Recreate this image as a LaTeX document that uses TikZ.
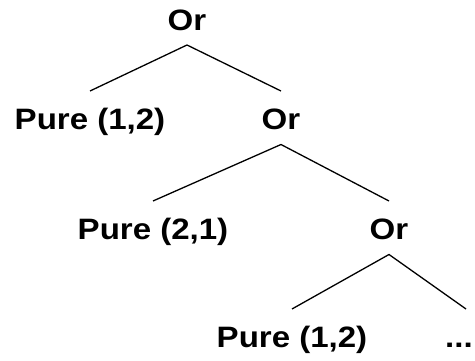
\documentclass[tikz,border=0pt]{standalone}
\usepackage{fontspec}
\setmainfont{Liberation Sans}[FakeStretch=1.12]
\begin{document}
\begin{tikzpicture}[x=1pt,y=-1pt,
  lab/.style={inner sep=0pt,anchor=base,font=\fontsize{29.5}{31}\selectfont\bfseries},
  edge/.style={line width=1.3pt}]
\useasboundingbox (0,0) rectangle (475,361);
\node[lab] (or1) at (187,30.5) {Or};
\node[lab] (p1) at (90,130) {Pure (1,2)};
\node[lab] (or2) at (281,130) {Or};
\node[lab] (p2) at (153,240) {Pure (2,1)};
\node[lab] (or3) at (389,240) {Or};
\node[lab] (p3) at (292,348) {Pure (1,2)};
\node[lab] (dots) at (459,348) {...};
\draw[edge] ([yshift=39pt]p1.base) -- ([yshift=-14.5pt]or1.base) -- ([yshift=39pt]or2.base);
\draw[edge] ([yshift=39pt]p2.base) -- ([yshift=-14.5pt]or2.base) -- ([yshift=39pt]or3.base);
\draw[edge] ([yshift=39pt]p3.base) -- ([yshift=-14.5pt]or3.base) -- ([xshift=7pt,yshift=39pt]dots.base);
\end{tikzpicture}
\end{document}
